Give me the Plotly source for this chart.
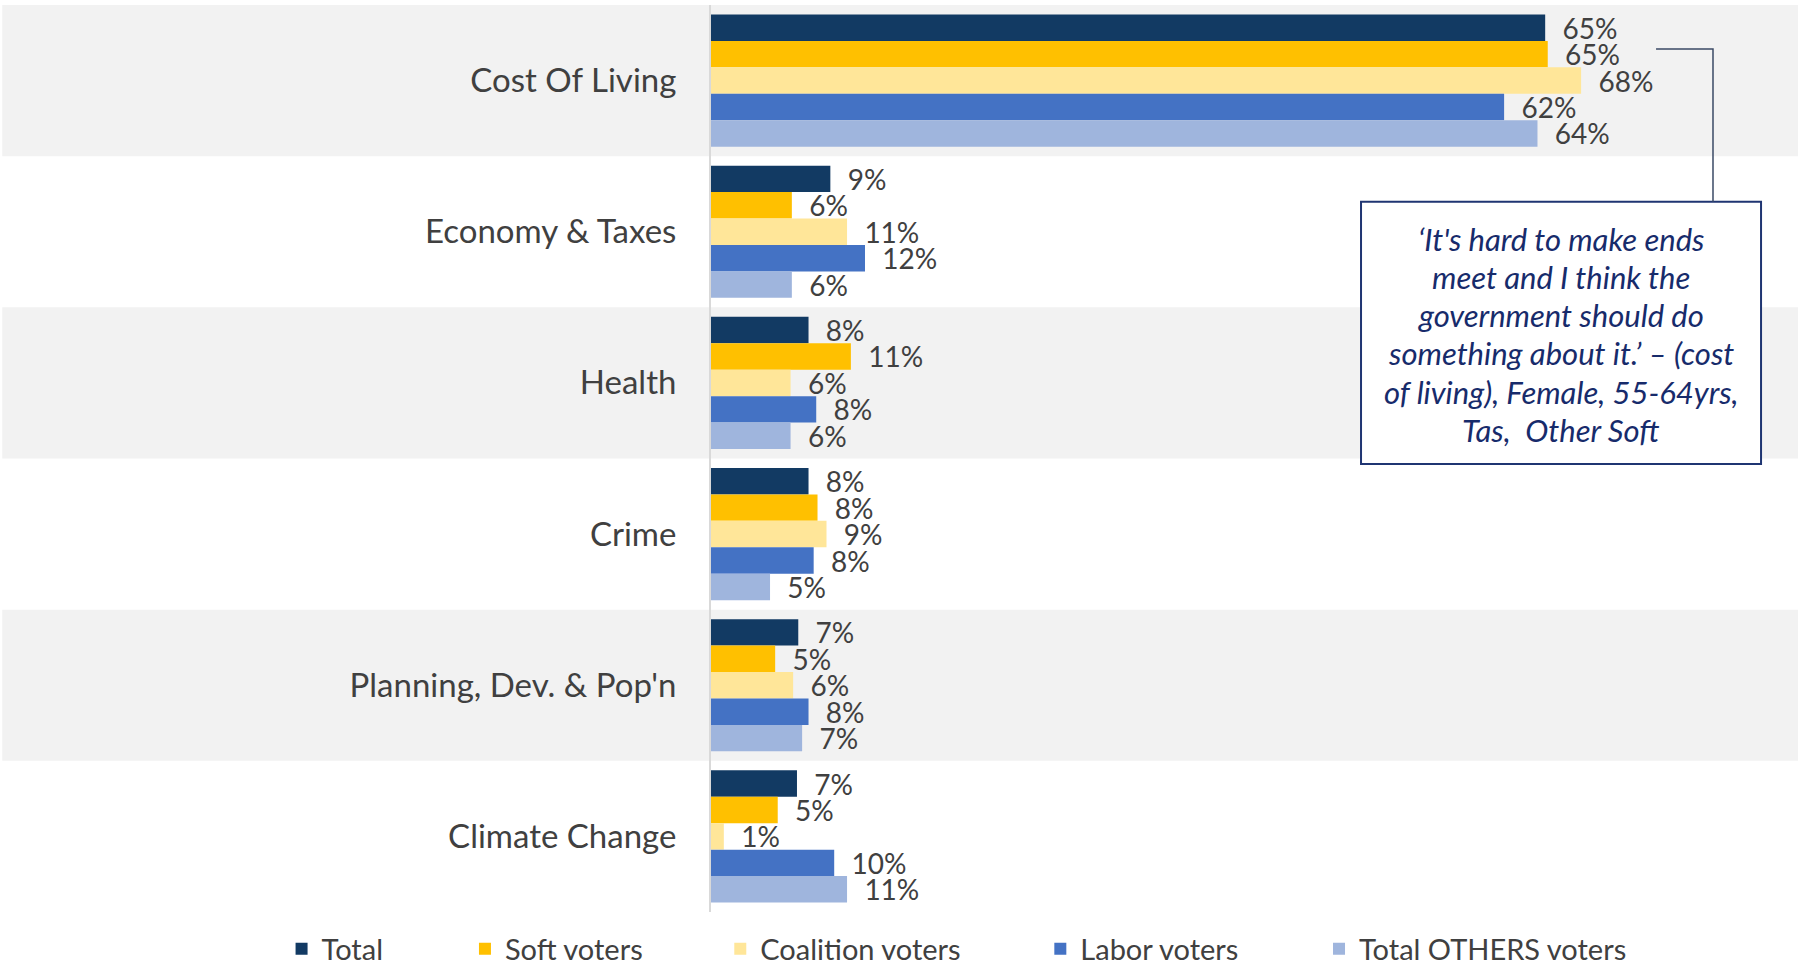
import plotly.graph_objects as go

# Categories (top to bottom) and series values (%)
categories = ['Cost Of Living', 'Economy & Taxes', 'Health', 'Crime',
              "Planning, Dev. & Pop'n", 'Climate Change']

total = [65.0, 9.3, 7.6, 7.6, 6.8, 6.7]
soft_voters = [65.2, 6.3, 10.9, 8.3, 5.0, 5.2]
coalition_voters = [67.8, 10.6, 6.2, 9.0, 6.4, 1.0]
labor_voters = [61.8, 12.0, 8.2, 8.0, 7.6, 9.6]
others_voters = [64.4, 6.3, 6.2, 4.6, 7.1, 10.6]

series_names = ['Total', 'Soft voters', 'Coalition voters', 'Labor voters',
                'Total OTHERS voters']
series_values = [total, soft_voters, coalition_voters, labor_voters, others_voters]
series_colors = ['#123a63', '#ffc000', '#ffe699', '#4472c4', '#9fb5dd']

quote_lines = [
    '\u2018It\'s hard to make ends',
    'meet and I think the',
    'government should do',
    'something about it.\u2019 \u2013 (cost',
    'of living), Female, 55-64yrs,',
    'Tas,  Other Soft',
]

FONT = 'Lato, Open Sans, sans-serif'
TEXT_COLOR = '#404040'
QUOTE_COLOR = '#172b6b'

# legend placement (container coords) for each series
legend_x = [0.1566, 0.2586, 0.4006, 0.5786, 0.7336]

fig = go.Figure()

for i, (name, vals, color) in enumerate(zip(series_names, series_values, series_colors)):
    legend_id = 'legend' if i == 0 else f'legend{i + 1}'
    fig.add_trace(go.Bar(
        x=vals,
        y=categories,
        orientation='h',
        name=name,
        marker=dict(color=color, line=dict(width=0)),
        texttemplate='\u00a0\u00a0%{x:.0f}%',
        textposition='outside',
        constraintext='none',
        cliponaxis=False,
        textfont=dict(family=FONT, size=28, color=TEXT_COLOR),
        legend=legend_id,
        showlegend=True,
    ))

# alternating grey bands behind categories
shapes = []
for i in range(len(categories)):
    if i % 2 == 0:
        shapes.append(dict(
            type='rect', xref='paper', yref='y',
            x0=-0.652, x1=1, y0=i - 0.5, y1=i + 0.5,
            fillcolor='#f2f2f2', line=dict(width=0), layer='below'
        ))

# callout box and its connector
shapes.append(dict(
    type='rect', xref='paper', yref='paper',
    x0=0.598, x1=0.966, y0=0.494, y1=0.783,
    fillcolor='white', line=dict(color='#1f3572', width=2), layer='above'
))
shapes.append(dict(
    type='path', xref='paper', yref='paper',
    path='M 0.8694 0.9515 L 0.9218 0.9515 L 0.9218 0.783',
    line=dict(color='#3b4a66', width=1.5), layer='above'
))

# quote text, one annotation per line (plot area spans 5..912 px)
annotations = []
for k, line in enumerate(quote_lines):
    annotations.append(dict(
        xref='paper', yref='paper',
        x=0.782, y=(912 - (238.5 + k * 38.3)) / 907,
        xanchor='center', yanchor='middle',
        text='<i>' + line + '</i>',
        showarrow=False,
        font=dict(family=FONT, size=31, color=QUOTE_COLOR),
    ))

legends = {}
for i, lx in enumerate(legend_x):
    key = 'legend' if i == 0 else f'legend{i + 1}'
    legends[key] = dict(
        orientation='h',
        xref='container', yref='container',
        x=lx, y=0.0115,
        xanchor='left', yanchor='middle',
        font=dict(family=FONT, size=29, color=TEXT_COLOR),
        bgcolor='rgba(0,0,0,0)',
        itemclick=False,
    )

fig.update_layout(
    width=1798,
    height=960,
    showlegend=True,
    barmode='group',
    bargap=0.126,
    bargroupgap=0,
    plot_bgcolor='white',
    paper_bgcolor='white',
    margin=dict(l=711, r=0, t=5, b=48, autoexpand=False),
    xaxis=dict(
        range=[0, 84.7],
        showgrid=False,
        zeroline=False,
        showticklabels=False,
        showline=False,
    ),
    yaxis=dict(
        autorange='reversed',
        showgrid=False,
        zeroline=False,
        showline=True,
        linecolor='#d9d9d9',
        linewidth=2,
        ticks='outside',
        ticklen=26,
        tickcolor='rgba(0,0,0,0)',
        tickfont=dict(family=FONT, size=33, color=TEXT_COLOR),
    ),
    shapes=shapes,
    annotations=annotations,
    **legends,
)

fig.write_html("out.html", config={'displayModeBar': False},
               post_script="document.body.style.margin='0px';")
